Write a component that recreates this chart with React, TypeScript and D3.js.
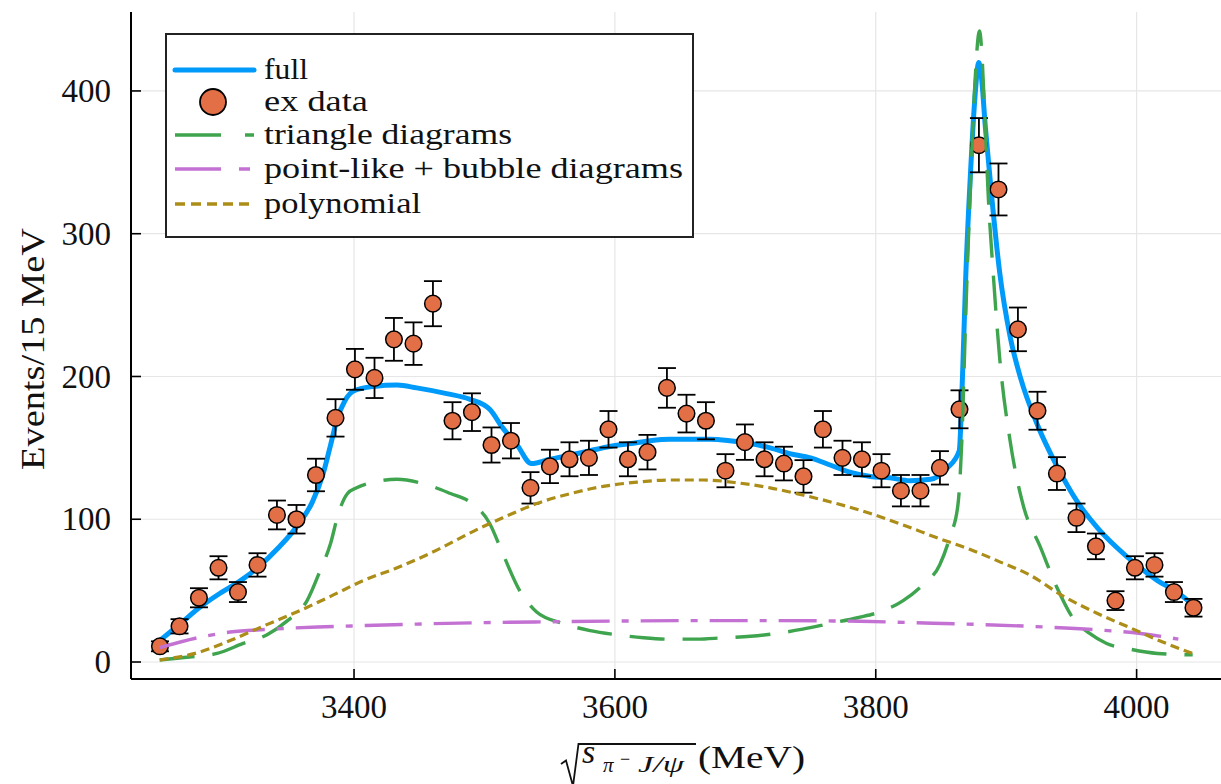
import React from "react";
import * as d3 from "d3";

// ---------- data ----------
const binCenters = [
  3251.2, 3266.2, 3281.1, 3296.1, 3311.0, 3326.0, 3340.9, 3355.9, 3370.8, 3385.8,
  3400.7, 3415.7, 3430.6, 3445.6, 3460.5, 3475.5, 3490.4, 3505.4, 3520.3, 3535.3,
  3550.2, 3565.2, 3580.1, 3595.1, 3610.0, 3625.0, 3639.9, 3654.9, 3669.8, 3684.8,
  3699.7, 3714.7, 3729.6, 3744.6, 3759.5, 3774.5, 3789.4, 3804.4, 3819.3, 3834.3,
  3849.2, 3864.2, 3879.1, 3894.1, 3909.0, 3924.0, 3938.9, 3953.9, 3968.8, 3983.8,
  3998.7, 4013.7, 4028.6, 4043.6,
];
const events = [
  11, 25, 45, 66, 49, 68, 103, 100, 131, 171,
  205, 199, 226, 223, 251, 169, 175, 152, 155, 122,
  137, 142, 143, 163, 142, 147, 192, 174, 169, 134,
  154, 142, 139, 130, 163, 143, 142, 134, 120, 120,
  136, 177, 362, 331, 233, 176, 132, 101, 81, 43,
  66, 68, 49, 38,
];
const errors = [
  3.5, 5, 6.7, 8.1, 7, 8.2, 10.1, 10, 11.4, 13.1,
  14.3, 14.1, 15, 14.9, 15.8, 13, 13.2, 12.3, 12.4, 11,
  11.7, 11.9, 12, 12.8, 11.9, 12.1, 13.9, 13.2, 13, 11.6,
  12.4, 11.9, 11.8, 11.4, 12.8, 12, 11.9, 11.6, 11, 11,
  11.7, 13.3, 19, 18.2, 15.3, 13.3, 11.5, 10, 9, 6.6,
  8.1, 8.2, 7, 6.2,
];

const fullX = [
  3251, 3267, 3282, 3297, 3313, 3326, 3342, 3357, 3368, 3376, 3382, 3387, 3393, 3400,
  3415, 3433, 3448, 3471, 3489, 3504, 3514, 3525, 3536, 3550, 3566, 3581, 3596, 3612,
  3627, 3642, 3658, 3673, 3688, 3704, 3719, 3734, 3750, 3765, 3780, 3796, 3811, 3826,
  3842, 3855, 3864, 3866.5, 3869, 3872.5, 3876, 3879, 3881, 3884, 3889, 3895, 3903,
  3911, 3924, 3939, 3954, 3970, 3985, 4000, 4016, 4031, 4043,
];
const fullY = [
  15, 27, 38.5, 48, 57, 66, 80, 96, 112, 131, 152, 170, 183, 190,
  193, 194, 192, 188, 184, 177, 164, 152, 139, 142, 145, 148, 151, 153,
  155, 156, 156, 156, 155, 153, 150, 146, 143, 138, 133, 130, 129, 127,
  128, 136, 148, 200, 270, 340, 395, 420, 410, 375, 325, 273, 228,
  199, 166, 137, 113, 94, 80, 68, 57, 49, 40,
];

const triX = [
  3251, 3274, 3295, 3315, 3333, 3349, 3364, 3374, 3382, 3388, 3395, 3402, 3415, 3433,
  3453, 3474, 3489, 3504, 3514, 3527, 3540, 3560, 3581, 3602, 3622, 3642, 3663, 3683,
  3704, 3724, 3744, 3765, 3786, 3806, 3821, 3836, 3849, 3857, 3863, 3866, 3869, 3872.5,
  3876, 3879.5, 3884, 3886, 3890, 3895, 3903, 3913, 3926, 3939, 3951, 3964, 3977, 3995,
  4016, 4043,
];
const triY = [
  1.4, 3.5, 6, 13, 19, 29, 43, 64, 83, 104, 118, 122, 126, 128,
  125, 118, 112, 97, 76, 50, 35, 27, 22, 19, 17, 16, 16, 17,
  18, 20, 23, 27, 31, 36, 43, 54, 68, 88, 110, 155, 243, 331,
  405, 442, 375, 331, 273, 213, 155, 110, 81, 52, 31, 20, 13, 9,
  6, 5,
];

const ptX = [3251, 3280, 3305, 3336, 3372, 3407, 3445, 3494, 3550, 3604, 3665, 3727, 3788, 3844, 3918, 3970, 4003, 4032];
const ptY = [10, 17, 21, 23, 24.5, 25.5, 26.5, 27.5, 28.2, 28.7, 29, 29, 28.5, 27.2, 25, 22.5, 20, 16];

const polyX = [
  3251, 3280, 3305, 3330, 3356, 3382, 3407, 3433, 3458, 3497, 3514, 3540, 3566, 3591,
  3617, 3642, 3668, 3694, 3719, 3744, 3770, 3796, 3821, 3847, 3872, 3893, 3918, 3944,
  3970, 3995, 4020, 4043,
];
const polyY = [
  1.4, 6.5, 15, 25, 35, 46, 57, 66, 76, 94, 101, 111, 118, 123,
  126, 127.5, 127.5, 125.5, 122, 117, 111, 104, 96, 87, 79, 71, 61, 46,
  34, 24, 14, 6,
];

const xTicks = [3400, 3600, 3800, 4000];
const yTicks = [0, 100, 200, 300, 400];
const legendLabels = ["full", "ex data", "triangle diagrams", "point-like + bubble diagrams", "polynomial"];

// ---------- styles ----------
const C_BLUE = "#009AFA";
const C_ORANGE = "#E36F47";
const C_GREEN = "#3EA44E";
const C_PURPLE = "#C371D2";
const C_GOLD = "#AC8D18";
const FONT = "'Liberation Serif', 'Times New Roman', serif";

const L = 131, R = 1224, T = 12, B = 679;

export default function App() {
  const x = d3.scaleLinear().domain([3229, 4067]).range([L, R]);
  const y = d3.scaleLinear().domain([-11.9, 455.3]).range([B, T]);
  const line = d3
    .line<[number, number]>()
    .x((d) => x(d[0]))
    .y((d) => y(d[1]))
    .curve(d3.curveMonotoneX);

  const fullPath = line(d3.zip(fullX, fullY) as [number, number][]) || "";
  const triPath = line(d3.zip(triX, triY) as [number, number][]) || "";
  const ptPath = line(d3.zip(ptX, ptY) as [number, number][]) || "";
  const polyPath = line(d3.zip(polyX, polyY) as [number, number][]) || "";

  const rowY = [70, 102, 135, 169, 204];
  const legendTextLen = [44, 104, 248, 419, 157];
  const sx0 = 175, sx1 = 254, tx = 264;

  return (
    <svg
      width={1221}
      height={784}
      style={{ position: "absolute", left: 0, top: 0, background: "#fff" }}
      fontFamily={FONT}
    >
      <defs>
        <clipPath id="plotclip">
          <rect x={L} y={T - 2} width={R - L} height={B - T + 2} />
        </clipPath>
      </defs>
      <rect x={0} y={0} width={1221} height={784} fill="#fff" />

      {/* grid */}
      {xTicks.map((t) => (
        <line key={"gx" + t} x1={x(t)} x2={x(t)} y1={T} y2={B} stroke="#e6e6e6" strokeWidth={1.2} />
      ))}
      {yTicks.map((t) => (
        <line key={"gy" + t} x1={L} x2={R} y1={y(t)} y2={y(t)} stroke="#e6e6e6" strokeWidth={1.2} />
      ))}

      {/* axes */}
      <line x1={L} x2={L} y1={T} y2={B} stroke="#000" strokeWidth={2} />
      <line x1={L} x2={R} y1={B} y2={B} stroke="#000" strokeWidth={2} />
      {xTicks.map((t) => (
        <g key={"xt" + t}>
          <line x1={x(t)} x2={x(t)} y1={B} y2={B - 10} stroke="#000" strokeWidth={1.6} />
          <text x={x(t)} y={718} textAnchor="middle" fontSize={33} fill="#111">
            {t}
          </text>
        </g>
      ))}
      {yTicks.map((t) => (
        <g key={"yt" + t}>
          <line x1={L} x2={L + 10} y1={y(t)} y2={y(t)} stroke="#000" strokeWidth={1.6} />
          <text x={111} y={y(t)} dy="0.34em" textAnchor="end" fontSize={33} fill="#111">
            {t}
          </text>
        </g>
      ))}

      {/* series */}
      <g clipPath="url(#plotclip)">
        <path d={fullPath} fill="none" stroke={C_BLUE} strokeWidth={5} strokeLinejoin="round" />
        {binCenters.map((c, i) => {
          const cx = x(c);
          const y0 = y(events[i] - errors[i]);
          const y1 = y(events[i] + errors[i]);
          return (
            <g key={"e" + i} stroke="#000" strokeWidth={1.8}>
              <line x1={cx} x2={cx} y1={y0} y2={y1} />
              <line x1={cx - 9} x2={cx + 9} y1={y0} y2={y0} />
              <line x1={cx - 9} x2={cx + 9} y1={y1} y2={y1} />
            </g>
          );
        })}
        {binCenters.map((c, i) => (
          <circle key={"p" + i} cx={x(c)} cy={y(events[i])} r={8.3} fill={C_ORANGE} stroke="#000" strokeWidth={1.5} />
        ))}
        <path d={triPath} fill="none" stroke={C_GREEN} strokeWidth={3.4} strokeDasharray="35 18" />
        <path d={ptPath} fill="none" stroke={C_PURPLE} strokeWidth={3.4} strokeDasharray="38 12 7 12" />
        <path d={polyPath} fill="none" stroke={C_GOLD} strokeWidth={3.2} strokeDasharray="9 5" />
      </g>

      {/* legend */}
      <rect x={166} y={34} width={527} height={203} fill="#fff" stroke="#222" strokeWidth={2} />
      <line x1={sx0} x2={sx1} y1={rowY[0]} y2={rowY[0]} stroke={C_BLUE} strokeWidth={5} strokeLinecap="round" />
      <circle cx={213} cy={rowY[1]} r={13} fill={C_ORANGE} stroke="#000" strokeWidth={1.8} />
      <line x1={sx0} x2={sx1} y1={rowY[2]} y2={rowY[2]} stroke={C_GREEN} strokeWidth={3.6} strokeDasharray="46 24" />
      <line x1={sx0} x2={sx1} y1={rowY[3]} y2={rowY[3]} stroke={C_PURPLE} strokeWidth={3.6} strokeDasharray="46 18 11 20" />
      <line x1={sx0} x2={sx1} y1={rowY[4]} y2={rowY[4]} stroke={C_GOLD} strokeWidth={3.6} strokeDasharray="10 6" />
      {legendLabels.map((s, i) => (
        <text
          key={"lt" + i}
          x={tx}
          y={rowY[i] + 9}
          fontSize={30}
          fill="#111"
          textLength={legendTextLen[i]}
          lengthAdjust="spacingAndGlyphs"
        >
          {s}
        </text>
      ))}

      {/* y label */}
      <text
        transform="translate(44,349) rotate(-90)"
        textAnchor="middle"
        fontSize={33}
        fill="#111"
        textLength={242}
        lengthAdjust="spacingAndGlyphs"
      >
        Events/15 MeV
      </text>

      {/* x label */}
      <path d="M561 764 L566 760.5 L573 786 L578.5 744 L696 744" fill="none" stroke="#111" strokeWidth={1.8} strokeLinejoin="miter" />
      <text x={582} y={763} fontSize={34} fontStyle="italic" fill="#111">s</text>
      <text x={603} y={772} fontSize={21} fontStyle="italic" fill="#111">π</text>
      <text x={620} y={765} fontSize={18} fill="#111">−</text>
      <text x={638} y={772} fontSize={23} fontStyle="italic" fill="#111" textLength={46} lengthAdjust="spacingAndGlyphs">J/ψ</text>
      <text x={698} y={768} fontSize={32} fill="#111" textLength={107} lengthAdjust="spacingAndGlyphs">(MeV)</text>
    </svg>
  );
}
